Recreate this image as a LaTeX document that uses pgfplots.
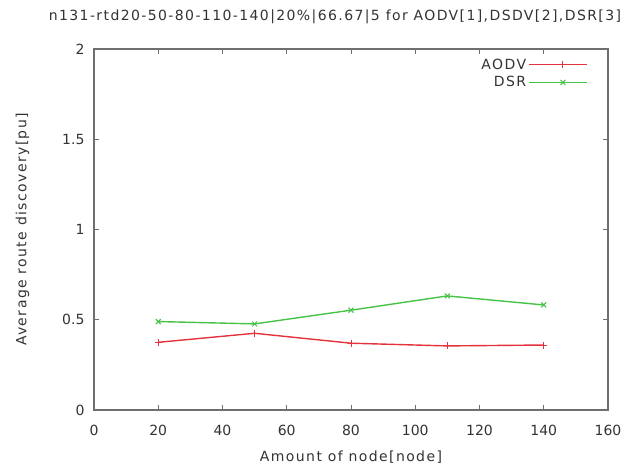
\documentclass[border=0pt]{standalone}
\usepackage{fontspec}
\setmainfont{DejaVu Sans}[LetterSpace=10]
\newfontfamily\tickfont{DejaVu Sans}
\usepackage{pgfplots}
\pgfplotsset{compat=1.18}

\definecolor{aodvred}{RGB}{228,50,60}
\definecolor{dsrgreen}{RGB}{70,195,70}
\definecolor{framegray}{RGB}{110,110,110}

\begin{document}
\begin{tikzpicture}
\begin{axis}[
  scale only axis,
  width=514pt, height=361pt,
  xmin=0, xmax=160, ymin=0, ymax=2,
  xtick={0,20,...,160},
  ytick={0,0.5,1,1.5,2},
  yticklabels={0,0.5,1,1.5,2},
  /pgf/number format/assume math mode=true,
  tick label style={font=\tickfont\fontsize{14}{16}\selectfont, text=black!80},
  label style={font=\fontsize{14}{16}\selectfont, text=black!80},
  title style={font=\fontsize{14}{16}\selectfont, text=black!80, yshift=16pt, xshift=-16pt},
  title={n131-rtd20-50-80-110-140|20\%|66.67|5 for AODV[1],DSDV[2],DSR[3]},
  xlabel={Amount of node[node]},
  ylabel={Average route discovery[pu]},
  axis line style={framegray, line width=1.1pt},
  tick style={framegray, line width=0.8pt},
  tick align=inside,
  major tick length=5pt,
  xticklabel style={yshift=-12pt},
  yticklabel style={xshift=-6pt},
  xlabel style={yshift=-8pt},
  ylabel style={yshift=26pt},
  legend style={draw=none, fill=none, at={(0.967,0.985)}, anchor=north east,
    font=\fontsize{14}{16}\selectfont, text=black!80, row sep=2pt},
  legend cell align=right,
  legend plot pos=right,
  legend image code/.code={
    \path (0cm,0cm) -- (0.35cm,0cm);
    \draw[#1, mark=none] (0.35cm,0cm) -- (2.05cm,0cm);
    \draw[#1, only marks] plot coordinates {(1.2cm,0cm)};
  },
]
\addplot[aodvred, line width=1.4pt, mark=+, mark size=3.5pt, mark options={line width=1pt}] coordinates {
  (20,0.375) (50,0.425) (80,0.37) (110,0.355) (140,0.36)
};
\addlegendentry{AODV}
\addplot[dsrgreen, line width=1.4pt, mark=x, mark size=3.5pt, mark options={line width=1pt}] coordinates {
  (20,0.49) (50,0.477) (80,0.553) (110,0.632) (140,0.582)
};
\addlegendentry{DSR}
\end{axis}
\pgfresetboundingbox
\path (current axis.south west) ++(-94pt,-55pt) rectangle ++(632pt,465pt);
\end{tikzpicture}
\end{document}
